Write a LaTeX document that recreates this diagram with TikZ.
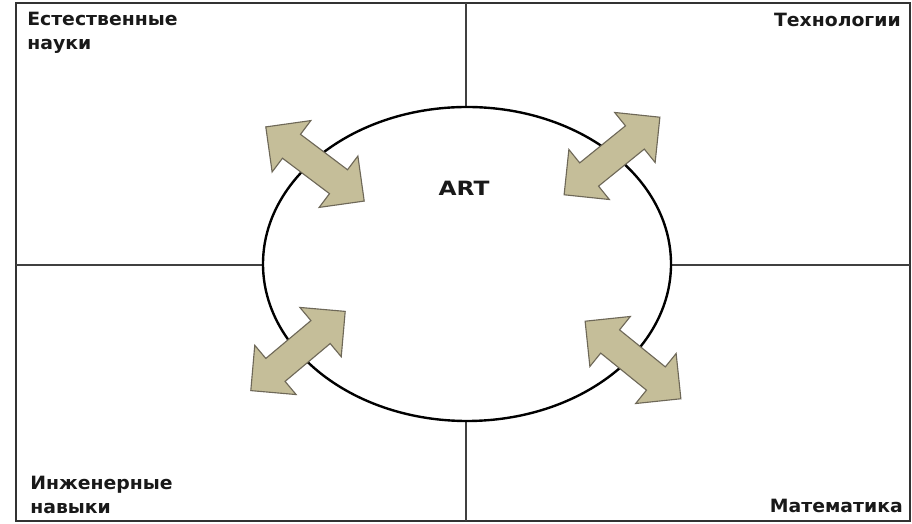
\documentclass[tikz,border=0pt]{standalone}
\usepackage{fontspec}
\setmainfont{DejaVu Sans}
\usepackage{tikz}
\usetikzlibrary{shapes,arrows,positioning,calc}

\definecolor{arrowtan}{RGB}{197,190,153}
\definecolor{arrowedge}{RGB}{110,104,88}

\begin{document}
\begin{tikzpicture}[x=0.025cm, y=0.025cm,
    field/.style={font=\bfseries\fontsize{13}{17}\selectfont, text=black!90, inner sep=0pt, align=left, xscale=1.03},
    swap/.style={double arrow, double arrow head extend=0.43cm, double arrow tip angle=90,
        minimum height=3.08cm, inner sep=0.36cm, fill=arrowtan, draw=arrowedge, line width=0.8pt}]
\useasboundingbox (0,0) rectangle (912,524);

% Outer frame and the cross dividing the four fields
\draw[black!80, line width=1.3pt] (16,3) rectangle (910,521);
\coordinate (top) at (466,521);
\coordinate (bottom) at (466,3);
\coordinate (left) at (16,259);
\coordinate (right) at (910,259);
\draw[black!75, line width=1.1pt] (top) -- (bottom);
\draw[black!75, line width=1.1pt] (left) -- (right);

% Central ellipse
\fill[white] (467,260) ellipse (204 and 157);
\draw[black, line width=1.7pt] (467,260) ellipse (204 and 157);
\node[field, font=\bfseries\fontsize{14}{16}\selectfont, xscale=1.15] (art) at (464,335.5) {ART};

% Two-way arrows between the ellipse and each field
\node[swap, rotate=-37] (arrtl) at (315,360) {};
\node[swap, rotate=39] (arrtr) at (612,368) {};
\node[swap, rotate=40] (arrbl) at (298,173) {};
\node[swap, rotate=-39] (arrbr) at (633,164) {};

% Field labels
\node[field, anchor=north west] (nat) at (27,512) {Естественные\\науки};
\node[field, anchor=base east] (tech) at (901,497) {Технологии};
\node[field, anchor=north west] (eng) at (30,48) {Инженерные\\навыки};
\node[field, anchor=base east] (math) at (903,11) {Математика};

\end{tikzpicture}
\end{document}
